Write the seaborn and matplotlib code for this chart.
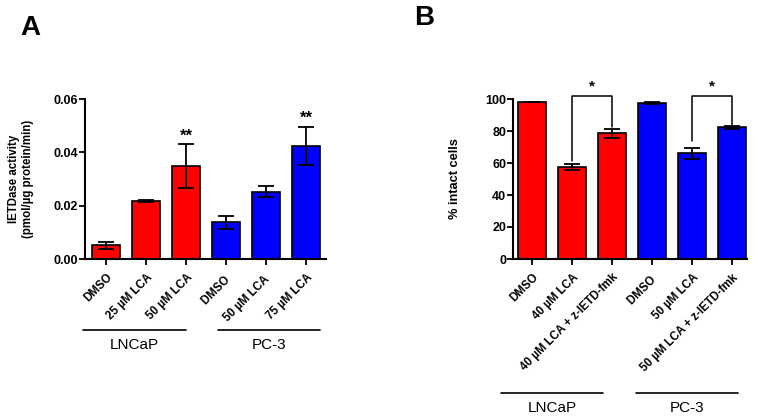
import pandas as pd
import seaborn as sns
import matplotlib.pyplot as plt
import matplotlib.transforms as mtransforms

# Panel A data
a_labels = ["DMSO", "25 µM LCA", "50 µM LCA", "DMSO ", "50 µM LCA ", "75 µM LCA"]
a_cell = ["LNCaP", "LNCaP", "LNCaP", "PC-3", "PC-3", "PC-3"]
a_mean = [0.0051, 0.0217, 0.0349, 0.0137, 0.0253, 0.0425]
a_err = [0.0012, 0.0005, 0.0082, 0.0024, 0.0021, 0.0071]
a_star = ["", "", "**", "", "", "**"]

# Panel B data
b_labels = ["DMSO", "40 µM LCA", "40 µM LCA + z-IETD-fmk",
            "DMSO ", "50 µM LCA", "50 µM LCA + z-IETD-fmk"]
b_cell = ["LNCaP", "LNCaP", "LNCaP", "PC-3", "PC-3", "PC-3"]
b_mean = [97.9, 57.5, 78.5, 97.6, 66.0, 82.4]
b_err = [0.0, 2.0, 3.0, 0.5, 3.3, 1.0]

colors = {"LNCaP": "#ff0000", "PC-3": "#0000ff"}

sns.set_style("ticks")
plt.rcParams["font.family"] = ["Liberation Sans", "DejaVu Sans"]
for k in ["text.color", "axes.labelcolor", "xtick.color", "ytick.color", "axes.edgecolor"]:
    plt.rcParams[k] = "black"

fig = plt.figure(figsize=(7.62, 4.18), dpi=100)
ax_a = fig.add_axes([85 / 762, 1 - 259 / 418, (326 - 85) / 762, 160 / 418])
ax_b = fig.add_axes([513 / 762, 1 - 259 / 418, (747 - 513) / 762, 160 / 418])


def draw_panel(ax, labels, cells, means, errs, ymax, yticks, fmt, ysize):
    df = pd.DataFrame({"label": labels, "cell": cells, "val": means})
    sns.barplot(data=df, x="label", y="val", hue="cell", palette=colors,
                dodge=False, width=0.68, edgecolor="black", linewidth=1.2,
                saturation=1, legend=False, ax=ax)
    ax.errorbar(range(len(means)), means, yerr=errs, fmt="none",
                ecolor="black", elinewidth=1.3, capsize=6, capthick=1.3)
    ax.set_ylim(0, ymax)
    ax.set_yticks(yticks)
    ax.set_yticklabels([fmt.format(t) for t in yticks], fontsize=ysize, fontweight="bold")
    ax.set_xticks(range(len(labels)))
    ax.set_xticklabels(labels, rotation=45, ha="right", rotation_mode="anchor",
                       fontsize=8.3, fontweight="bold")
    ax.set_xlabel("")
    for s in ["top", "right"]:
        ax.spines[s].set_visible(False)
    for s in ["left", "bottom"]:
        ax.spines[s].set_linewidth(1.5)
    ax.tick_params(axis="both", width=1.3, length=4, color="black")
    ax.tick_params(axis="y", pad=1)
    ax.tick_params(axis="x", pad=5)


def group_line(ax, x0, x1, y_line, y_text, text):
    trans = mtransforms.blended_transform_factory(ax.transData, ax.transAxes)
    ax.plot([x0, x1], [y_line, y_line], color="black", lw=1.2,
            transform=trans, clip_on=False)
    ax.text((x0 + x1) / 2, y_text, text, transform=trans, ha="center",
            va="center", fontsize=11)


# Panel A
draw_panel(ax_a, a_labels, a_cell, a_mean, a_err, 0.06, [0.0, 0.02, 0.04, 0.06], "{:.2f}", 9)
ax_a.set_xlim(-0.525, 5.5)
ax_a.set_ylabel("IETDase activity\n(pmol/µg protein/min)", fontsize=8.3,
                fontweight="bold", labelpad=14)
for i, s in enumerate(a_star):
    if s:
        ax_a.text(i, a_mean[i] + a_err[i] + 0.0003, s, ha="center", va="bottom",
                  fontsize=12, fontweight="bold")
group_line(ax_a, -0.575, 2.0, -0.444, -0.535, "LNCaP")
group_line(ax_a, 2.8, 5.35, -0.444, -0.535, "PC-3")

# Panel B
draw_panel(ax_b, b_labels, b_cell, b_mean, b_err, 100, [0, 20, 40, 60, 80, 100], "{:d}", 9)
ax_b.set_xlim(-0.475, 5.375)
ax_b.set_ylabel("% intact cells", fontsize=9.2, fontweight="bold", labelpad=17)

# significance brackets
brackets = [(1, 2, 61, 82.5), (4, 5, 74, 84.0)]
for x0, x1, y0, y1 in brackets:
    top = 101.8
    ax_b.plot([x0, x0, x1, x1], [y0, top, top, y1], color="black", lw=1.1, clip_on=False)
    ax_b.text((x0 + x1) / 2, top + 1.5, "*", ha="center", va="bottom",
              fontsize=11, fontweight="bold", clip_on=False)

group_line(ax_b, -0.775, 1.775, -0.8375, -0.93, "LNCaP")
group_line(ax_b, 2.6, 5.15, -0.8375, -0.93, "PC-3")

fig.text(20 / 762, 1 - 28 / 418, "A", fontsize=20, fontweight="bold", va="center")
fig.text(414 / 762, 1 - 18 / 418, "B", fontsize=20, fontweight="bold", va="center")

fig.savefig("out.png", dpi=100)
